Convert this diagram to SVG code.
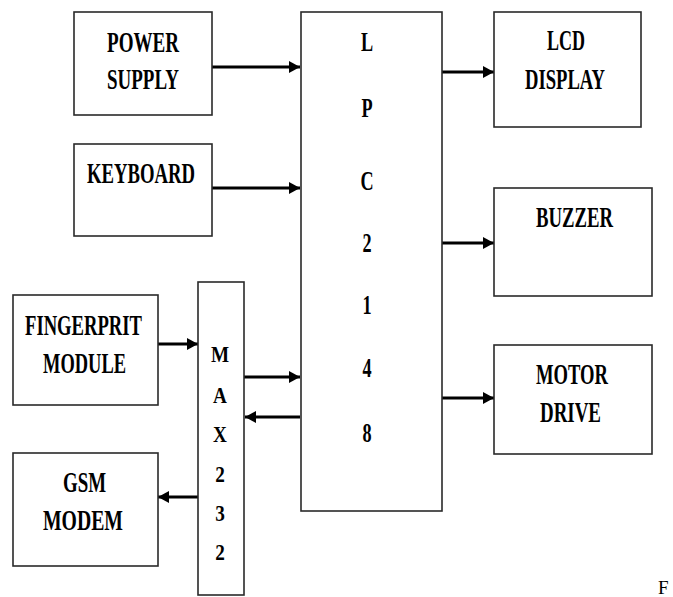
<svg xmlns="http://www.w3.org/2000/svg" width="673" height="597" viewBox="0 0 673 597">
<style>
.box{fill:#fff;stroke:#2a2a2a;stroke-width:1.6}
.lbl{font-family:"Liberation Serif","Times New Roman",serif;font-weight:bold;font-size:29px;fill:#000}
.ch{font-family:"Liberation Serif","Times New Roman",serif;font-weight:bold;font-size:28px;fill:#000;text-anchor:middle}
.mx{font-family:"Liberation Serif","Times New Roman",serif;font-weight:bold;font-size:24px;fill:#000;text-anchor:middle}
.ar{stroke:#000;stroke-width:3;fill:none;marker-end:url(#ah)}
</style>
<defs>
<marker id="ah" markerUnits="userSpaceOnUse" markerWidth="12" markerHeight="14" refX="11" refY="7" orient="auto">
<path d="M0,1 L11,7 L0,13 Z" fill="#000"/>
</marker>
</defs>
<rect width="673" height="597" fill="#fff"/>
<g id="connectors">
<line class="ar" x1="212" y1="67" x2="300" y2="67"/>
<line class="ar" x1="212" y1="188" x2="300" y2="188"/>
<line class="ar" x1="158" y1="344" x2="198" y2="344"/>
<line class="ar" x1="244" y1="377" x2="300" y2="377"/>
<line class="ar" x1="300" y1="417" x2="245" y2="417"/>
<line class="ar" x1="198" y1="497" x2="158" y2="497"/>
<line class="ar" x1="442" y1="72" x2="494" y2="72"/>
<line class="ar" x1="442" y1="243" x2="494" y2="243"/>
<line class="ar" x1="442" y1="398" x2="494" y2="398"/>
</g>
<g id="power_supply">
<rect class="box" x="74" y="12" width="138" height="103"/>
<text class="lbl" x="107" y="52" textLength="72" lengthAdjust="spacingAndGlyphs">POWER</text>
<text class="lbl" x="107" y="89" textLength="72" lengthAdjust="spacingAndGlyphs">SUPPLY</text>
</g>
<g id="keyboard">
<rect class="box" x="74" y="144" width="138" height="92"/>
<text class="lbl" x="87" y="183" textLength="108" lengthAdjust="spacingAndGlyphs">KEYBOARD</text>
</g>
<g id="fingerprint">
<rect class="box" x="13" y="295" width="145" height="110"/>
<text class="lbl" x="25" y="335" textLength="117" lengthAdjust="spacingAndGlyphs">FINGERPRIT</text>
<text class="lbl" x="43" y="373" textLength="83" lengthAdjust="spacingAndGlyphs">MODULE</text>
</g>
<g id="gsm">
<rect class="box" x="13" y="453" width="145" height="113"/>
<text class="lbl" x="63" y="492" textLength="43" lengthAdjust="spacingAndGlyphs">GSM</text>
<text class="lbl" x="43" y="530" textLength="80" lengthAdjust="spacingAndGlyphs">MODEM</text>
</g>
<g id="max232">
<rect class="box" x="198" y="282" width="46" height="313"/>
<g transform="translate(220,0) scale(0.8,1)">
<text class="mx" x="0" y="362">M</text>
<text class="mx" x="0" y="403">A</text>
<text class="mx" x="0" y="442">X</text>
<text class="mx" x="0" y="482">2</text>
<text class="mx" x="0" y="521">3</text>
<text class="mx" x="0" y="560">2</text>
</g>
</g>
<g id="lpc2148">
<rect class="box" x="301" y="12" width="141" height="499"/>
<g transform="translate(367,0) scale(0.65,1)">
<text class="ch" x="0" y="51">L</text>
<text class="ch" x="0" y="117">P</text>
<text class="ch" x="0" y="190">C</text>
<text class="ch" x="0" y="252">2</text>
<text class="ch" x="0" y="314">1</text>
<text class="ch" x="0" y="377">4</text>
<text class="ch" x="0" y="442">8</text>
</g>
</g>
<g id="lcd">
<rect class="box" x="494" y="12" width="147" height="115"/>
<text class="lbl" x="547" y="50" textLength="38" lengthAdjust="spacingAndGlyphs">LCD</text>
<text class="lbl" x="525" y="89" textLength="80" lengthAdjust="spacingAndGlyphs">DISPLAY</text>
</g>
<g id="buzzer">
<rect class="box" x="494" y="188" width="158" height="108"/>
<text class="lbl" x="536" y="227" textLength="77" lengthAdjust="spacingAndGlyphs">BUZZER</text>
</g>
<g id="motor">
<rect class="box" x="494" y="345" width="158" height="109"/>
<text class="lbl" x="536" y="384" textLength="72" lengthAdjust="spacingAndGlyphs">MOTOR</text>
<text class="lbl" x="540" y="422" textLength="61" lengthAdjust="spacingAndGlyphs">DRIVE</text>
</g>
<text x="658" y="594" font-family="'Liberation Serif','Times New Roman',serif" font-size="19" fill="#000">F</text>
</svg>
